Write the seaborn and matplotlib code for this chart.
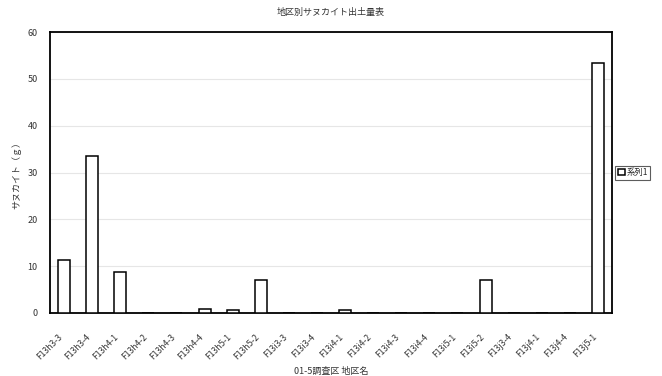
import matplotlib
matplotlib.use("Agg")
import matplotlib.pyplot as plt
import matplotlib.transforms as mtransforms
import seaborn as sns
import pandas as pd

categories = ["F13h3-3", "F13h3-4", "F13h4-1", "F13h4-2", "F13h4-3", "F13h4-4",
              "F13h5-1", "F13h5-2", "F13i3-3", "F13i3-4", "F13i4-1", "F13i4-2",
              "F13i4-3", "F13i4-4", "F13i5-1", "F13i5-2", "F13j3-4", "F13j4-1",
              "F13j4-4", "F13j5-1"]
values = [11.3, 33.5, 8.8, 0, 0, 0.9, 0.6, 7.0, 0, 0, 0.6, 0,
          0, 0, 0, 7.0, 0, 0, 0, 53.4]
yticks = [0, 10, 20, 30, 40, 50, 60]
series_name = "系列1"

sns.set_theme(style="white")
plt.rcParams['font.family'] = ['Noto Sans CJK JP', 'DejaVu Sans']

df = pd.DataFrame({"地区名": categories, "値": values})

fig = plt.figure(figsize=(6.62, 3.76), dpi=100)
ax = fig.add_axes([50/662, 1-313/376, 562/662, 281/376])

sns.barplot(data=df, x="地区名", y="値", ax=ax, color="white", edgecolor="black",
            linewidth=1.1, width=0.43, label=series_name, zorder=3)

ax.set_ylim(0, 60)
ax.set_xlim(-0.5, len(categories) - 0.5)
ax.set_yticks(yticks)
ax.set_yticklabels([str(v) for v in yticks], fontsize=6.5, color="#333333")
ax.yaxis.grid(True, color="#e6e6e6", linewidth=0.8, zorder=0)
ax.set_axisbelow(True)
ax.tick_params(axis="y", length=0, pad=9)
ax.set_xticks(range(len(categories)))
ax.set_xticklabels(categories, rotation=45, ha="right", rotation_mode="anchor",
                   fontsize=6.2, color="#333333")
ax.tick_params(axis="x", length=0, pad=14)
offset = mtransforms.ScaledTranslation(-6/100, 0, fig.dpi_scale_trans)
for lbl in ax.get_xticklabels():
    lbl.set_transform(lbl.get_transform() + offset)
for s in ax.spines.values():
    s.set_color("black")
    s.set_linewidth(1.3)

ax.set_xlabel("01-5調査区 地区名", fontsize=6.5, color="#333333", labelpad=4)
ax.set_ylabel("サヌカイト（ｇ）", fontsize=6.5, color="#333333", labelpad=4)
ax.set_title("地区別サヌカイト出土量表", fontsize=6.5, color="#333333", pad=12)

leg = ax.legend(loc="center left", bbox_to_anchor=(1.006, 0.5), fontsize=6,
                frameon=True, fancybox=False, edgecolor="#333333",
                handlelength=0.8, handleheight=0.8, handletextpad=0.2,
                borderpad=0.3, borderaxespad=0)
leg.get_frame().set_linewidth(0.8)

fig.savefig("out.png", dpi=100, facecolor="white")
